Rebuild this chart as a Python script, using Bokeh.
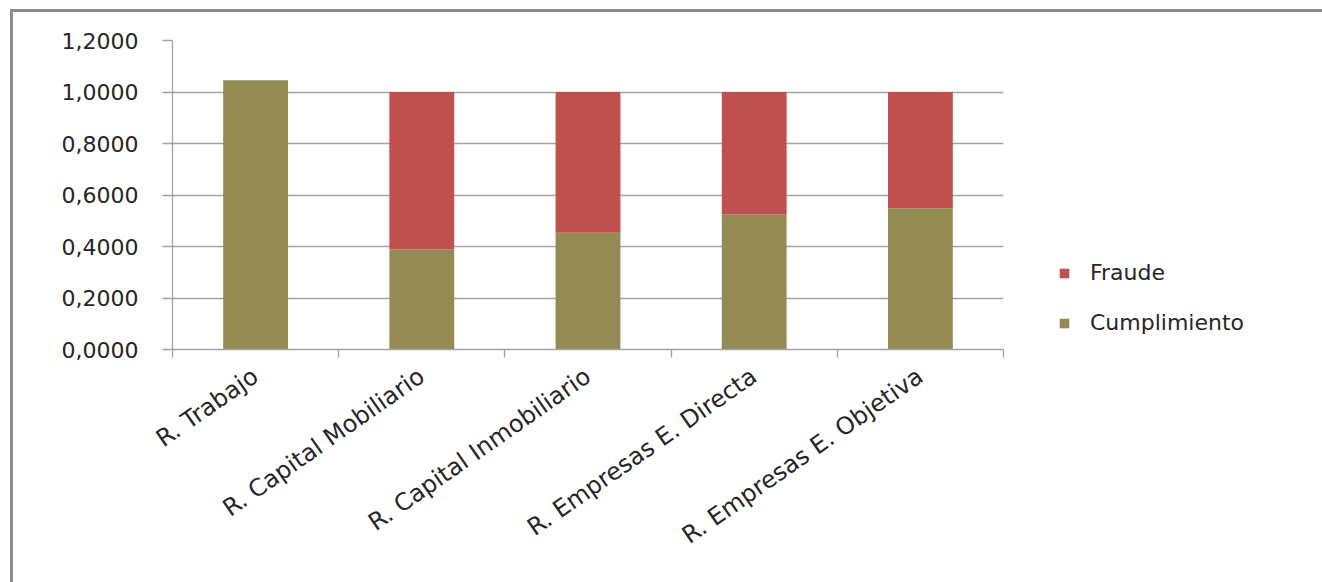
from bokeh.plotting import figure
from bokeh.layouts import row
from bokeh.models import (Range1d, FixedTicker, CustomJSTickFormatter, Legend, LegendItem,
                          ColumnDataSource)
from bokeh.embed import file_html
from bokeh.resources import INLINE

categories = ["R. Trabajo", "R. Capital Mobiliario", "R. Capital Inmobiliario",
              "R. Empresas E. Directa", "R. Empresas E. Objetiva"]
cumplimiento = [1.046, 0.388, 0.453, 0.524, 0.549]
fraude = [0.0, 0.612, 0.547, 0.476, 0.451]
series = ["Cumplimiento", "Fraude"]
y_ticks = [0.0, 0.2, 0.4, 0.6, 0.8, 1.0, 1.2]

OLIVE = "#948A54"
RED = "#C0504D"
GRID = "#a3a3a3"
FONT = "DejaVu Sans"
H = 570

xpos = [i + 0.5 for i in range(len(categories))]
src = ColumnDataSource(dict(x=xpos, Cumplimiento=cumplimiento, Fraude=fraude))

p = figure(width=1000, height=H, output_backend="svg", toolbar_location=None,
           x_range=Range1d(0, len(categories)), y_range=Range1d(0, 1.2),
           min_border_left=159, min_border_right=10, min_border_top=28,
           min_border_bottom=233)

r = p.vbar_stack(series, x="x", width=0.39, source=src,
                 color=[OLIVE, RED], line_color=None)

p.outline_line_color = None
p.xgrid.visible = False
p.ygrid.grid_line_color = GRID
p.ygrid.grid_line_width = 1.3
p.ygrid.ticker = FixedTicker(ticks=y_ticks)

# y axis
p.yaxis.ticker = FixedTicker(ticks=y_ticks)
p.yaxis.formatter = CustomJSTickFormatter(code="return tick.toFixed(4).replace('.', ',');")
p.yaxis.axis_line_color = GRID
p.yaxis.axis_line_width = 1.3
p.yaxis.major_tick_line_color = GRID
p.yaxis.major_tick_line_width = 1.3
p.yaxis.major_tick_out = 10
p.yaxis.major_tick_in = 0
p.yaxis.minor_tick_line_color = None
p.yaxis.major_label_standoff = 24
p.yaxis.major_label_text_font = FONT
p.yaxis.major_label_text_font_size = "22px"
p.yaxis.major_label_text_color = "#262626"

# x axis
p.xaxis.ticker = FixedTicker(ticks=xpos, minor_ticks=list(range(len(categories) + 1)))
p.xaxis.major_label_overrides = {x: c for x, c in zip(xpos, categories)}
p.xaxis.axis_line_color = GRID
p.xaxis.axis_line_width = 1.3
p.xaxis.major_tick_line_color = None
p.xaxis.major_tick_out = 0
p.xaxis.major_tick_in = 0
p.xaxis.minor_tick_line_color = GRID
p.xaxis.minor_tick_line_width = 1.3
p.xaxis.minor_tick_out = 8
p.xaxis.minor_tick_in = 0
p.xaxis.major_label_orientation = 0.61
p.xaxis.major_label_standoff = 16
p.xaxis.major_label_text_font = FONT
p.xaxis.major_label_text_font_size = "24px"
p.xaxis.major_label_text_color = "#262626"

# legend panel (separate figure so the legend is not clipped by the plot frame)
p2 = figure(width=309, height=H, output_backend="svg", toolbar_location=None,
            x_range=Range1d(0, len(categories)), y_range=Range1d(0, 1.2),
            x_axis_type=None, y_axis_type=None,
            min_border_left=0, min_border_right=0, min_border_top=28,
            min_border_bottom=233)
p2.outline_line_color = None
p2.grid.visible = False
r2 = p2.vbar_stack(series, x="x", width=0.39, source=src,
                   color=[OLIVE, RED], line_color=None)
for rr in r2:
    rr.visible = False
legend = Legend(items=[LegendItem(label="Fraude", renderers=[r2[1]]),
                       LegendItem(label="Cumplimiento", renderers=[r2[0]])],
                location=(45, 14), orientation="vertical",
                glyph_width=12, glyph_height=12, label_standoff=20,
                label_height=24, spacing=25, padding=0, margin=0,
                border_line_color=None, background_fill_alpha=0,
                inactive_fill_alpha=0,
                label_text_font=FONT, label_text_font_size="22px",
                label_text_color="#262626")
p2.add_layout(legend, "center")

lay = row(p, p2)
lay.styles = {"border-left": "3px solid #8c8c8c", "border-top": "3px solid #8c8c8c",
              "margin-left": "10px", "margin-top": "9px"}

open("out.html", "w").write(file_html(lay, INLINE))
